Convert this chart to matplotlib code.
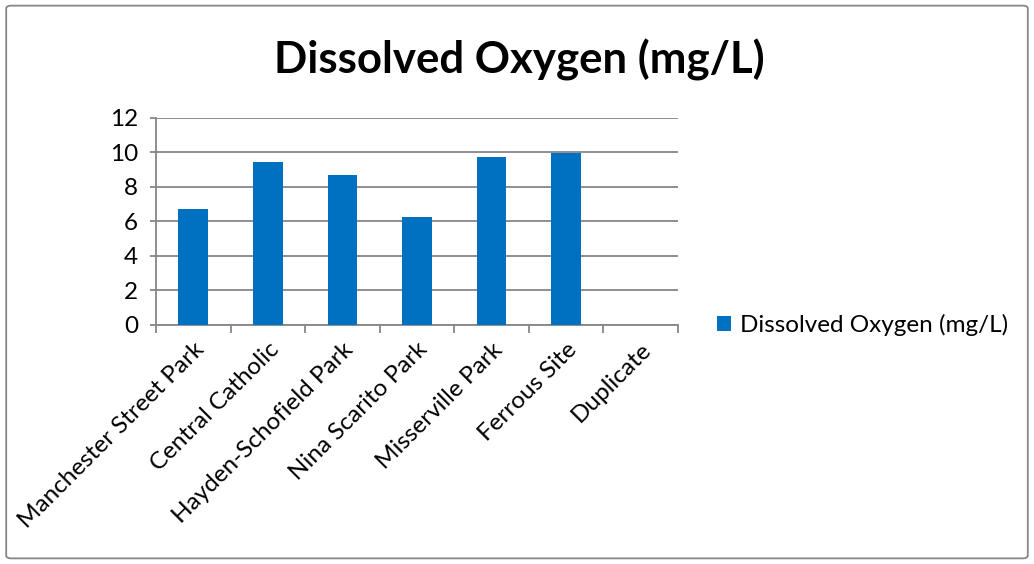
import numpy as np
import matplotlib
matplotlib.use('Agg')
import matplotlib.pyplot as plt
from matplotlib.patches import FancyBboxPatch

# data
SITES = ['Manchester Street Park', 'Central Catholic', 'Hayden-Schofield Park',
         'Nina Scarito Park', 'Misserville Park', 'Ferrous Site', 'Duplicate']
DO_VALUES = [6.73, 9.42, 8.68, 6.28, 9.76, 9.95, np.nan]
Y_TICKS = [0, 2, 4, 6, 8, 10, 12]
SERIES_LABEL = 'Dissolved Oxygen (mg/L)'
TITLE = 'Dissolved Oxygen (mg/L)'

BAR_COLOR = '#0070C0'
GRID_COLOR = '#868686'

plt.rcParams['font.family'] = ['Lato', 'DejaVu Sans']

fig = plt.figure(figsize = (10.34, 5.64), dpi = 100)
ax = fig.add_axes([0.1509, 0.4238, 0.5048, 0.3670])

x = np.arange(len(SITES))
bars = ax.bar(x, DO_VALUES, width = 0.4, color = BAR_COLOR, label = SERIES_LABEL, zorder = 3)

ax.set_xlim(-0.5, len(SITES) - 0.5)
ax.set_ylim(Y_TICKS[0], Y_TICKS[-1])
ax.set_yticks(Y_TICKS)
ax.tick_params(axis = 'y', labelsize = 17.5, length = 4, color = GRID_COLOR, width = 1.3, pad = 9)
ax.yaxis.grid(True, color = GRID_COLOR, linewidth = 1.3, zorder = 0)

# category boundary ticks, labels at centers
ax.set_xticks(np.arange(len(SITES) + 1) - 0.5)
ax.set_xticklabels([])
ax.tick_params(axis = 'x', which = 'major', length = 6, color = GRID_COLOR, width = 1.3)
ax.set_xticks(x, minor = True)
ax.set_xticklabels(SITES, minor = True, rotation = 45, ha = 'right', rotation_mode = 'anchor', fontsize = 17.5)
ax.tick_params(axis = 'x', which = 'minor', length = 0, pad = 10)

for side in ['top', 'right']:
	ax.spines[side].set_visible(False)
ax.spines['left'].set_color(GRID_COLOR)
ax.spines['bottom'].set_color(GRID_COLOR)
ax.spines['left'].set_linewidth(1.3)
ax.spines['bottom'].set_linewidth(1.3)
ax.set_axisbelow(True)

fig.text(0.502, 0.894, TITLE, ha = 'center', va = 'center', fontsize = 31.5, fontweight = 'bold')

fig.legend(handles = [bars], labels = [SERIES_LABEL], loc = 'center left',
           bbox_to_anchor = (0.672, 0.4238), frameon = False, fontsize = 17.5,
           handlelength = 0.6, handleheight = 0.6, handletextpad = 0.35)

border = FancyBboxPatch((0.006, 0.01), 0.988, 0.98, boxstyle = 'round,pad=0,rounding_size=0.005',
                        transform = fig.transFigure, fill = False, edgecolor = GRID_COLOR, linewidth = 1.3)
fig.patches.append(border)

fig.savefig('out.png', dpi = 100)
